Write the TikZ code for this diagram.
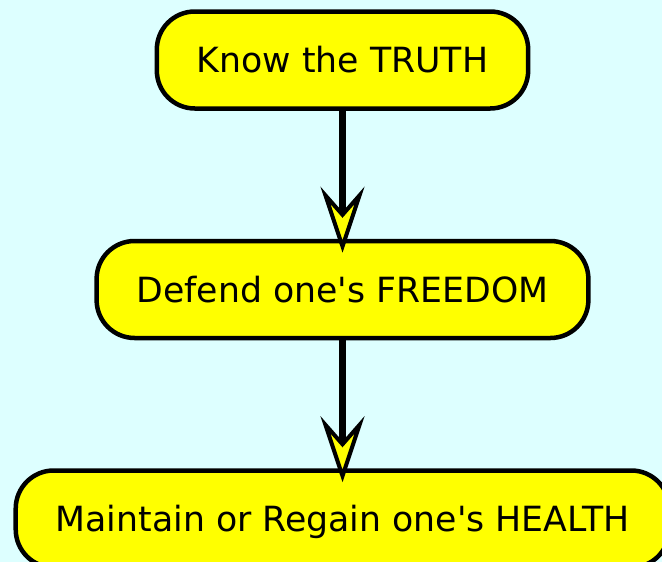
\documentclass[tikz,border=0pt]{standalone}
\usepackage{fontspec}
\setmainfont{DejaVu Sans}
\usetikzlibrary{positioning,arrows.meta}

\definecolor{skycyan}{RGB}{221,255,255}
\definecolor{boxyellow}{RGB}{255,255,0}

\begin{document}
\begin{tikzpicture}[x=1pt,y=-1pt,
  every node/.style={font=\fontsize{34.7}{40}\selectfont},
  stage/.style={draw=black, line width=4.5pt, fill=boxyellow, rounded corners=38pt,
    inner xsep=40pt, minimum height=97pt, text height=25pt, text depth=0pt},
  flow/.style={line width=7pt, shorten >=-14pt,
    -{Stealth[length=66pt, width=44pt, inset=25pt, fill=boxyellow, line width=4pt]}},
  node distance=128pt]
    \fill[skycyan] (0,0) rectangle (662,562);
    \useasboundingbox (0,0) rectangle (662,562);
    \node[stage] (truth) at (342.5,60) {Know the TRUTH};
    \node[stage, below=of truth] (freedom) {Defend one\textquotesingle s FREEDOM};
    \node[stage, below=of freedom] (health) {Maintain or Regain one\textquotesingle s HEALTH};
    % connectors
    \draw[flow] (truth) -- (freedom);
    \draw[flow] (freedom) -- (health);
\end{tikzpicture}
\end{document}
